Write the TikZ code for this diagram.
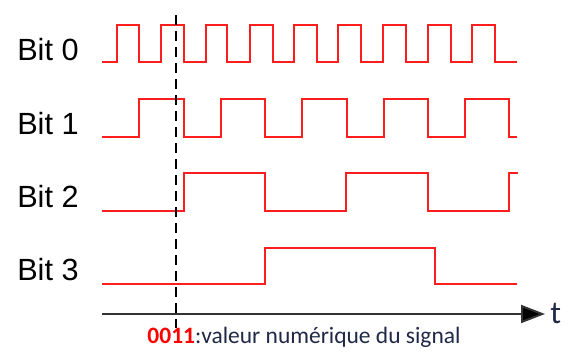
\documentclass[tikz,border=0pt]{standalone}
\usepackage{fontspec}
\setmainfont{Liberation Sans}
\newfontfamily\calfont{Carlito}
\usetikzlibrary{arrows.meta}
\definecolor{sigred}{RGB}{255,30,30}
\definecolor{txtblue}{RGB}{31,40,70}
\begin{document}
\begin{tikzpicture}[x=0.75pt,y=-0.75pt,
  signal/.style={draw=sigred,line width=1.5pt,line join=miter},
  bitlabel/.style={anchor=west,inner sep=0pt,font=\fontsize{23}{25}\selectfont},
  marker/.style={draw=black,line width=1.1pt,dash pattern=on 7.5pt off 4.5pt},
  axis/.style={draw=black!80,line width=1.5pt,-{Triangle[length=18pt,width=13.5pt,fill=black]}}]
\useasboundingbox (0,0) rectangle (568,354);
% labels
\node[bitlabel] (l0) at (17,50) {Bit 0};
\node[bitlabel] (l1) at (17,124) {Bit 1};
\node[bitlabel] (l2) at (17,197) {Bit 2};
\node[bitlabel] (l3) at (17,270) {Bit 3};
% Bit 0
\draw[signal] (102,62) -- (116.7,62) |- (139.3,25) |- (160.7,62) |- (184.3,25) |- (205.7,62)
  |- (227.3,25) |- (250,62) |- (272.7,25) |- (294,62) |- (316.7,25) |- (338.3,62)
  |- (361,25) |- (383.3,62) |- (406,25) |- (427.7,62) |- (450.7,25) |- (472.3,62)
  |- (495,25) |- (517,62);
% Bit 1
\draw[signal] (102,136.7) -- (139.3,136.7) |- (184.3,99.3) |- (221,136.7) |- (265,99.3)
  |- (302.3,136.7) |- (346.7,99.3) |- (384,136.7) |- (427.7,99.3) |- (465,136.7)
  |- (509.3,99.3) |- (517,136.7);
% Bit 2
\draw[signal] (102,210.7) -- (184,210.7) |- (265,173.3) |- (346,210.7) |- (427.7,173.3)
  |- (509.3,210.7) |- (518,173.3);
% Bit 3
\draw[signal] (102,284.3) -- (265,284.3) |- (435,247.7) |- (517,284.3);
% marker
\coordinate (mtop) at (176,15);
\coordinate (mbot) at (176,328);
\draw[marker] (mtop) -- (mbot);
% axis
\coordinate (a0) at (102,314);
\coordinate (a1) at (545,314);
\draw[axis] (a0) -- (a1);
\node[font=\calfont\fontsize{24}{26}\selectfont,text=txtblue,anchor=west,inner sep=0pt] (t) at (550,313) {t};
\node[font=\calfont\fontsize{17.6}{19}\selectfont,text=txtblue,inner sep=0pt] (cap) at (304,337)
  {\textcolor{red}{\bfseries 0011}:valeur numérique du signal};
\end{tikzpicture}
\end{document}
